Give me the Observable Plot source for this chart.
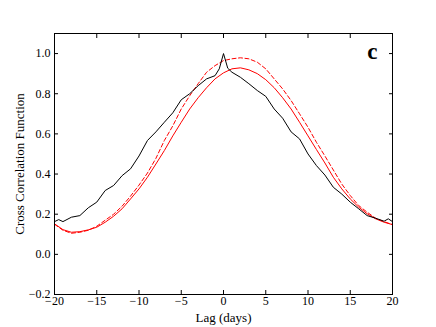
<!DOCTYPE html>
<html><head><meta charset="utf-8">
<script src="https://cdn.jsdelivr.net/npm/d3@7"></script>
<script src="https://cdn.jsdelivr.net/npm/@observablehq/plot@0.6"></script>
<style>body{margin:0;background:#fff}
svg g[aria-label="x-axis label"] text, svg g[aria-label="y-axis label"] text{font-size:13px}</style>
</head><body><div id="chart"></div>
<script>
const blackLag = [-20,-19.5,-19,-18,-17,-16,-15,-14,-13,-12,-11,-10,-9,-8,-7,-6,-5,-4,-3,-2,-1,-0.5,0,0.5,1,2,3,4,5,6,7,8,9,10,11,12,13,14,15,16,17,18,19,19.5,20];
const blackCCF = [0.163,0.173,0.163,0.185,0.193,0.232,0.26,0.318,0.343,0.392,0.426,0.49,0.567,0.61,0.658,0.705,0.77,0.80,0.84,0.874,0.89,0.924,1.0,0.927,0.907,0.882,0.85,0.816,0.787,0.724,0.678,0.61,0.575,0.50,0.442,0.395,0.334,0.30,0.26,0.227,0.193,0.18,0.165,0.177,0.163];
const modelLag = [-20,-19,-18,-17,-16,-15,-14,-13,-12,-11,-10,-9,-8,-7,-6,-5,-4,-3,-2,-1,0,1,2,3,4,5,6,7,8,9,10,11,12,13,14,15,16,17,18,19,20];
const solidCCF = [0.152,0.123,0.11,0.113,0.122,0.135,0.16,0.19,0.227,0.276,0.326,0.384,0.45,0.517,0.59,0.658,0.724,0.78,0.83,0.874,0.904,0.924,0.929,0.919,0.90,0.87,0.83,0.78,0.724,0.658,0.59,0.522,0.455,0.384,0.326,0.276,0.235,0.202,0.177,0.16,0.148];
const dashedCCF = [0.15,0.12,0.105,0.11,0.12,0.14,0.17,0.20,0.24,0.29,0.345,0.405,0.478,0.567,0.64,0.724,0.79,0.85,0.907,0.94,0.965,0.974,0.979,0.974,0.957,0.924,0.874,0.824,0.766,0.70,0.633,0.558,0.49,0.42,0.35,0.293,0.243,0.21,0.18,0.163,0.148];
const xTicks = [-20,-15,-10,-5,0,5,10,15,20];
const yTicks = [-0.2,0,0.2,0.4,0.6,0.8,1.0];

const black = blackLag.map((x,i)=>({x,y:blackCCF[i]}));
const solid = modelLag.map((x,i)=>({x,y:solidCCF[i]}));
const dashed = modelLag.map((x,i)=>({x,y:dashedCCF[i]}));
const font = "'Liberation Serif', 'DejaVu Serif', serif";

const chart = Plot.plot({
  width: 436, height: 327,
  marginLeft: 54, marginRight: 44, marginTop: 33, marginBottom: 33,
  style: {fontFamily: font, fontSize: "12px", background: "#fff", color: "#000"},
  x: {domain: [-20, 20]},
  y: {domain: [-0.2, 1.1]},
  marks: [
    Plot.line(dashed, {x: "x", y: "y", stroke: "red", strokeWidth: 1, strokeDasharray: "4,2.5"}),
    Plot.line(solid, {x: "x", y: "y", stroke: "red", strokeWidth: 1}),
    Plot.line(black, {x: "x", y: "y", stroke: "black", strokeWidth: 1}),
    Plot.axisX({ticks: xTicks, tickSize: -4, tickPadding: 6, tickFormat: d3.format("d"), label: "Lag (days)", labelAnchor: "center", labelArrow: "none", labelOffset: 27, fontSize: 12}),
    Plot.axisX({anchor: "top", ticks: xTicks, tickSize: -4, tickFormat: () => "", label: null}),
    Plot.axisY({ticks: yTicks, tickSize: -4, tickPadding: 8, tickFormat: d3.format(".1f"), label: "Cross Correlation Function", labelAnchor: "center", labelArrow: "none", labelOffset: 40, fontSize: 12}),
    Plot.axisY({anchor: "right", ticks: yTicks, tickSize: -4, tickFormat: () => "", label: null}),
    Plot.frame({stroke: "black", strokeWidth: 1}),
    Plot.text(["c"], {frameAnchor: "top-right", dx: -15, dy: 9, fontSize: 23, fontWeight: "bold", fill: "black"})
  ]
});
document.getElementById("chart").appendChild(chart);
</script>
</body></html>
